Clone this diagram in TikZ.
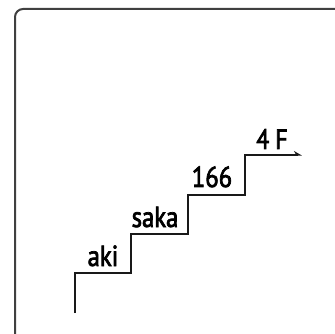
\documentclass[tikz,border=0pt]{standalone}
\usepackage{fontspec}
\setmainfont{PT Sans}[FakeStretch=0.85, FakeBold=2.5]
\usepackage{tikz}
\usetikzlibrary{arrows.meta}

\begin{document}
\begin{tikzpicture}[x=1pt,y=-1pt,
    stairline/.style={line width=2.6pt, black!90},
    steplabel/.style={inner sep=0pt, anchor=base, font=\fontsize{29}{29}\selectfont},
    floorlabel/.style={inner sep=0pt, anchor=base, font=\fontsize{28}{28}\selectfont}]
    \clip (0,0) rectangle (335,334);
    \draw[line width=2pt, black!75, rounded corners=8pt] (15,9) rectangle (360,360);

    \coordinate (A) at (75,313);
    \coordinate (B) at (75,273);
    \coordinate (C) at (131,273);
    \coordinate (D) at (131,234);
    \coordinate (E) at (188,234);
    \coordinate (F) at (188,195);
    \coordinate (G) at (245,195);
    \coordinate (H) at (245,155);
    \coordinate (I) at (302,155);

\draw[stairline, -{Stealth[harpoon,length=7pt,width=8pt]}]
    (A) -- (B) -- (C) -- (D) -- (E) -- (F) -- (G) -- (H) -- (I);
\node[steplabel] (aki) at (103,266) {aki};
\node[steplabel] (saka) at (155,227) {saka};
\node[steplabel] (num) at (212,187) {166};
\node[floorlabel] (floor) at (272,149) {4\kern6pt F};
  \end{tikzpicture}
\end{document}
